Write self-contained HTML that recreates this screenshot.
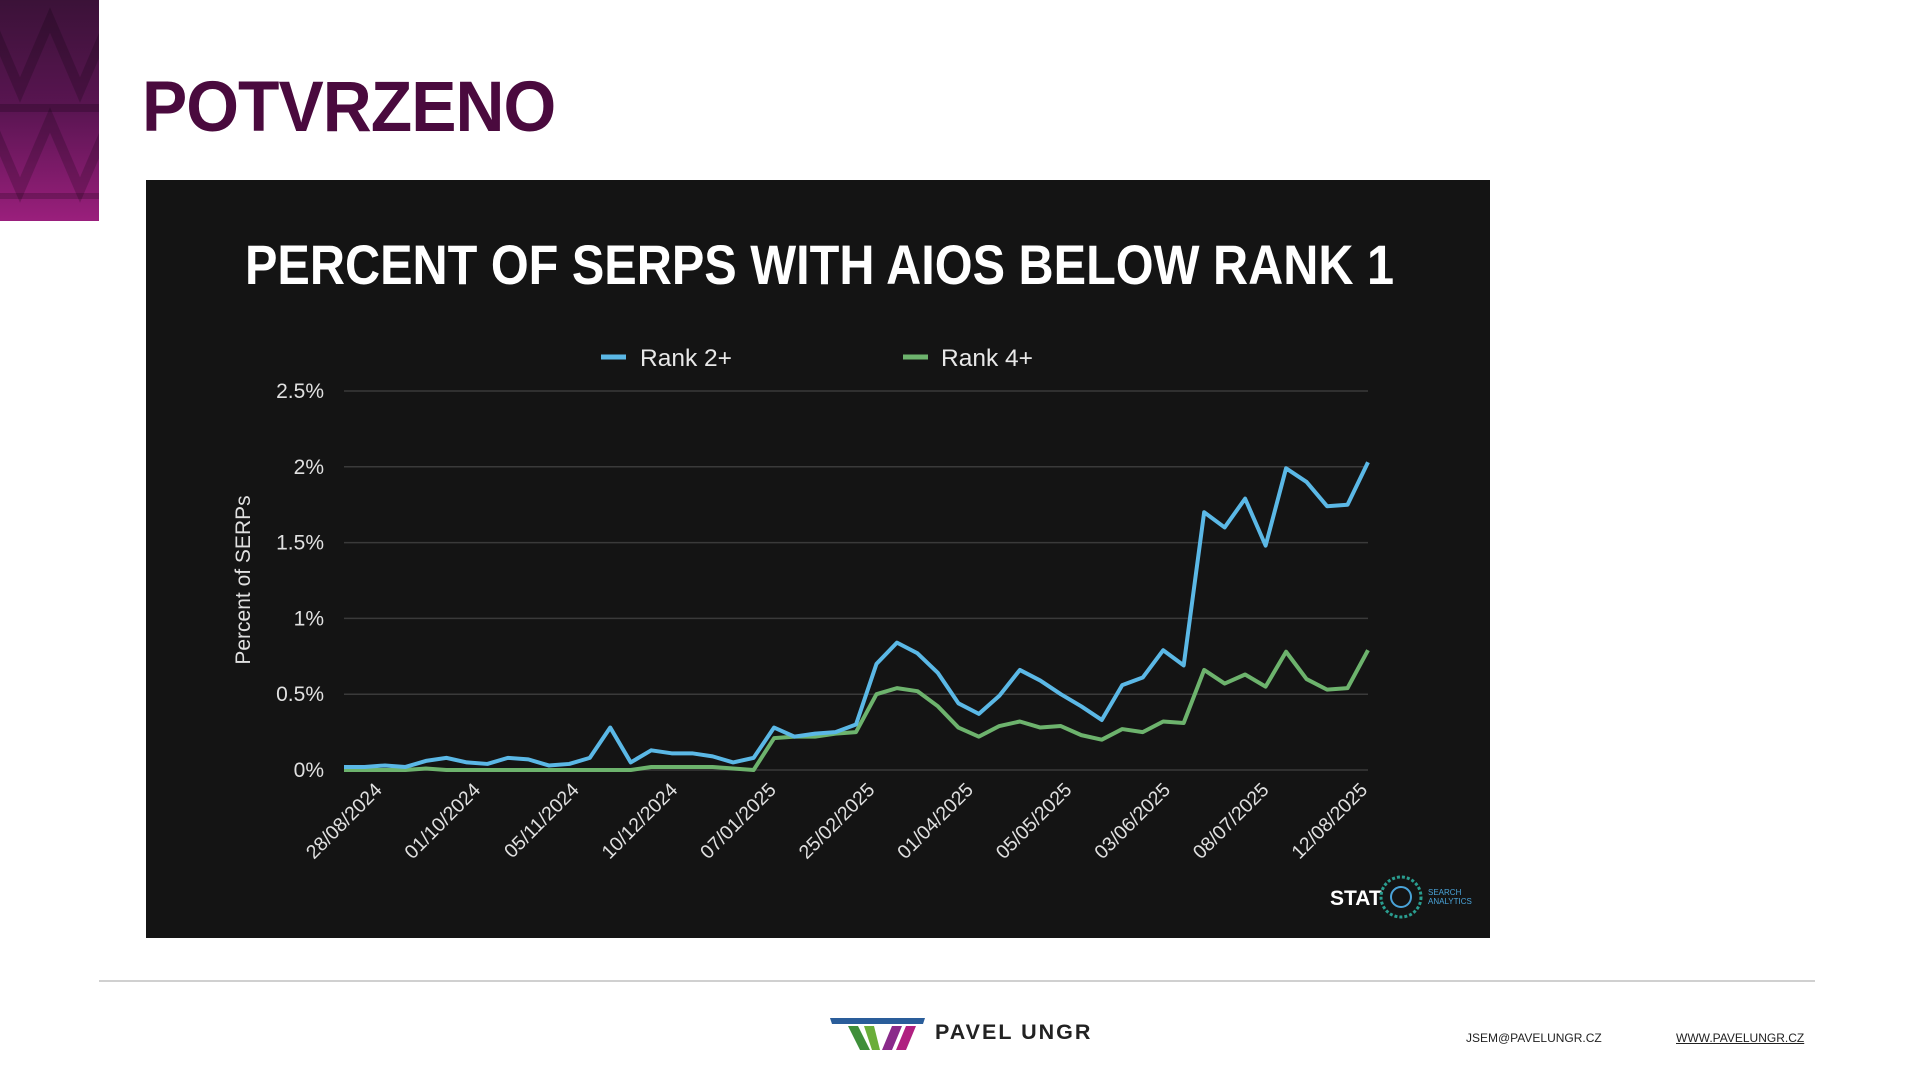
<!DOCTYPE html>
<html><head><meta charset="utf-8"><style>
html,body{margin:0;padding:0;background:#fff;}
body{width:1920px;height:1080px;position:relative;overflow:hidden;font-family:"Liberation Sans",sans-serif;}
</style></head><body>
<div style="position:absolute;left:0;top:0;width:99px;height:221px;background:linear-gradient(180deg,#3b1238 0%,#5a1552 50%,#9a1f7c 100%);overflow:hidden">
<svg width="99" height="221" style="position:absolute;left:0;top:0">
<g fill="none" stroke="rgba(0,0,0,0.18)" stroke-width="10">
<path d="M-10 20 L20 90 L50 20 L80 90 L110 20"/><path d="M-10 120 L20 190 L50 120 L80 190 L110 120"/>
</g>
<rect x="0" y="104" width="99" height="8" fill="rgba(0,0,0,0.2)"/><rect x="0" y="193" width="99" height="6" fill="rgba(0,0,0,0.2)"/>
</svg></div>
<div style="position:absolute;left:142px;top:67px;font-size:71px;font-weight:bold;color:#4a0a3e;letter-spacing:-1px;transform:scaleX(0.955);transform-origin:0 0;white-space:nowrap">POTVRZENO</div>

<svg id="chart" width="1920" height="1080" style="position:absolute;left:0;top:0">
<rect x="146" y="180" width="1344" height="758" fill="#141414"/>
<text x="245" y="284" fill="#fff" font-size="56" font-weight="bold" textLength="1149" lengthAdjust="spacingAndGlyphs" font-family="Liberation Sans, sans-serif">PERCENT OF SERPS WITH AIOS BELOW RANK 1</text>
<line x1="601" y1="357" x2="626" y2="357" stroke="#5bb8e6" stroke-width="5"/>
<text x="640" y="366" fill="#e8e8e8" font-size="24.5">Rank 2+</text>
<line x1="903" y1="357" x2="928" y2="357" stroke="#6db36d" stroke-width="5"/>
<text x="941" y="366" fill="#e8e8e8" font-size="24.5">Rank 4+</text>
<text transform="translate(250,580) rotate(-90)" text-anchor="middle" fill="#e0e0e0" font-size="21">Percent of SERPs</text>
<g id="grid"></g><g id="xlabels"></g><g id="series"></g>
<text x="1330" y="905" fill="#fff" font-size="21" font-weight="bold">STAT</text>
<circle cx="1401" cy="897" r="20" fill="none" stroke="#2a9d8f" stroke-width="3" stroke-dasharray="3 2"/>
<circle cx="1401" cy="897" r="10" fill="none" stroke="#4aa3d8" stroke-width="2"/>
<text x="1428" y="895" fill="#4aa3d8" font-size="8">SEARCH</text>
<text x="1428" y="904" fill="#4aa3d8" font-size="8">ANALYTICS</text>
</svg>

<div style="position:absolute;left:99px;top:980px;width:1716px;height:2px;background:#d0d0d0"></div>
<svg width="98" height="34" style="position:absolute;left:830px;top:1018px">
<polygon points="0,0 95,0 93,6 2,6" fill="#2a5d9a"/>
<polygon points="18,8 28,8 40,32 30,32" fill="#3f8f3a"/>
<polygon points="34,8 44,8 50,32 42,32" fill="#6aae3a"/>
<polygon points="62,8 72,8 62,32 52,32" fill="#8a2a8a"/>
<polygon points="76,8 86,8 76,32 66,32" fill="#b02080"/>
</svg>
<div style="position:absolute;left:935px;top:1020px;font-size:21.5px;color:#222;letter-spacing:2px;font-weight:bold">PAVEL UNGR</div>
<div style="position:absolute;left:1466px;top:1031px;font-size:12px;color:#222">JSEM@PAVELUNGR.CZ</div>
<div style="position:absolute;left:1676px;top:1031px;font-size:12px;color:#222;text-decoration:underline">WWW.PAVELUNGR.CZ</div>

<script>
const yTicks=[0,0.5,1,1.5,2,2.5];
const yTickLabels=["0%","0.5%","1%","1.5%","2%","2.5%"];
const xTickLabels=["28/08/2024","01/10/2024","05/11/2024","10/12/2024","07/01/2025","25/02/2025","01/04/2025","05/05/2025","03/06/2025","08/07/2025","12/08/2025"];
const rank2=[0.02,0.02,0.03,0.02,0.06,0.08,0.05,0.04,0.08,0.07,0.03,0.04,0.08,0.28,0.05,0.13,0.11,0.11,0.09,0.05,0.08,0.28,0.22,0.24,0.25,0.30,0.70,0.84,0.77,0.64,0.44,0.37,0.49,0.66,0.59,0.50,0.42,0.33,0.56,0.61,0.79,0.69,1.70,1.60,1.79,1.48,1.99,1.90,1.74,1.75,2.03];
const rank4=[0,0,0,0,0.01,0,0,0,0,0,0,0,0,0,0,0.02,0.02,0.02,0.02,0.01,0,0.21,0.22,0.22,0.24,0.25,0.50,0.54,0.52,0.42,0.28,0.22,0.29,0.32,0.28,0.29,0.23,0.20,0.27,0.25,0.32,0.31,0.66,0.57,0.63,0.55,0.78,0.60,0.53,0.54,0.79];
const NS="http://www.w3.org/2000/svg";
const X0=344,X1=1368,Y0=770,Y1=391;
function xs(i){return X0+(X1-X0)*i/(rank2.length-1);}
function ys(v){return Y0-(Y0-Y1)*v/2.5;}
const grid=document.getElementById('grid');
yTicks.forEach((t,k)=>{
 const l=document.createElementNS(NS,'line');
 
 
 l.setAttribute('x1',X0);l.setAttribute('x2',X1);l.setAttribute('y1',ys(t));l.setAttribute('y2',ys(t));
 l.setAttribute('stroke','#3a3a3a');l.setAttribute('stroke-width','1.5');grid.appendChild(l);
 const tx=document.createElementNS(NS,'text');
 
 
 tx.setAttribute('x',324);tx.setAttribute('y',ys(t)+7);tx.setAttribute('text-anchor','end');
 tx.setAttribute('fill','#e0e0e0');tx.setAttribute('font-size','21');tx.textContent=yTickLabels[k];grid.appendChild(tx);
});
const xl=document.getElementById('xlabels');
xTickLabels.forEach((s,k)=>{
 const x=xs(k*5)+39-k*3.85, y=791;
 const tx=document.createElementNS(NS,'text');
 
 
 tx.setAttribute('transform','translate('+x+','+y+') rotate(-45)');
 tx.setAttribute('text-anchor','end');tx.setAttribute('fill','#e0e0e0');tx.setAttribute('font-size','19.5');
 tx.textContent=s;xl.appendChild(tx);
});
const ser=document.getElementById('series');
[[rank4,'#6db36d','line-rank4'],[rank2,'#5bb8e6','line-rank2']].forEach(([d,c,n])=>{
 const p=document.createElementNS(NS,'polyline');
 
 
 p.setAttribute('points',d.map((v,i)=>xs(i)+','+ys(v)).join(' '));
 p.setAttribute('fill','none');p.setAttribute('stroke',c);p.setAttribute('stroke-width','4');p.setAttribute('stroke-linejoin','round');
 ser.appendChild(p);
});
</script>
</body></html>
